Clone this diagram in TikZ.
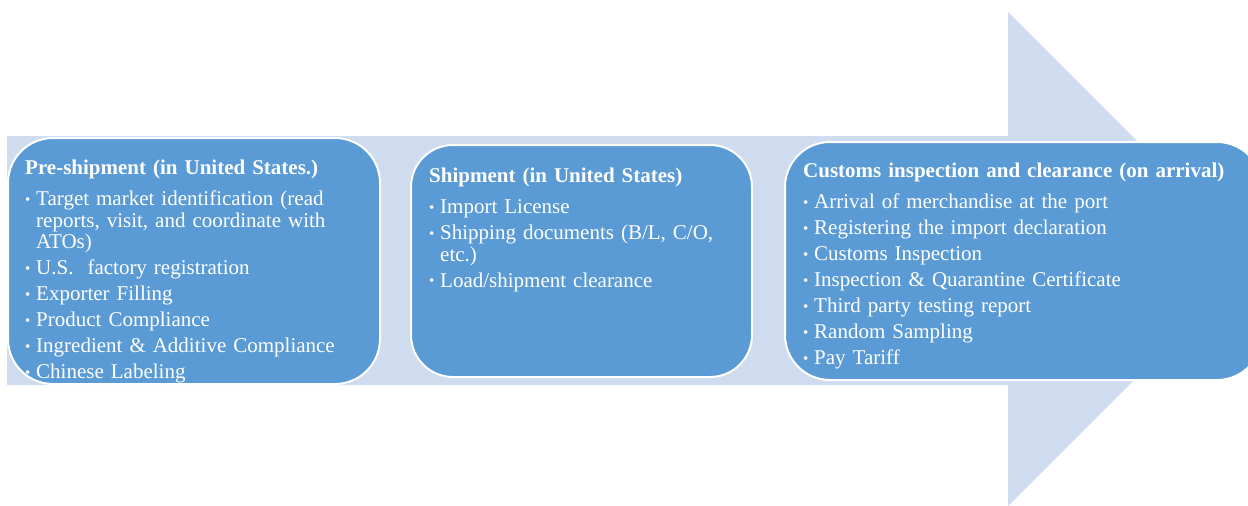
\documentclass[tikz,border=0pt]{standalone}
\usepackage{fontspec}
\setmainfont{Liberation Serif}
\definecolor{arrowfill}{HTML}{CFDBEE}
\definecolor{boxfill}{HTML}{5B9BD5}
\newcommand\bitem[1]{\par\hangindent=11pt\hangafter=1\noindent\makebox[11pt][l]{\raisebox{1.5pt}{\fontsize{15}{15}\selectfont\textbullet}}#1}
\newcommand\btitle[1]{\noindent\textbf{#1}\par\vspace{5pt}}
\tikzset{
  stage/.style={draw=white, line width=2pt, fill=boxfill},
  stagetext/.style={anchor=north west, inner sep=0pt, text=white, align=left, text width=#1,
    font=\fontsize{21}{21.5}\selectfont\setlength{\parskip}{4.5pt}},
}
\begin{document}
\begin{tikzpicture}[x=1pt,y=-1pt]
\useasboundingbox (0,0) rectangle (1248,506);
\clip (0,0) rectangle (1248,506);
% big arrow
\fill[arrowfill] (7,136) -- (1008,136) -- (1008,12) -- (1255,259) -- (1008,506) -- (1008,385) -- (7,385) -- cycle;
% boxes
\draw[stage, rounded corners=45pt] (8,138) rectangle (380,384);
\draw[stage, rounded corners=42pt] (411,145) rectangle (752,377);
\draw[stage, rounded corners=45pt] (785,142) rectangle (1262,380);
% texts
\node[stagetext=350pt] (t1) at (25,160) {%
\btitle{Pre-shipment (in United States.)}
\bitem{Target market identification (read\newline reports, visit, and coordinate with\newline ATOs)}
\bitem{U.S.\ \ factory registration}
\bitem{Exporter Filling}
\bitem{Product Compliance}
\bitem{Ingredient \& Additive Compliance}
\bitem{Chinese Labeling}};
\node[stagetext=320pt] (t2) at (429,168) {%
\btitle{Shipment (in United States)}
\bitem{Import License}
\bitem{Shipping documents (B/L, C/O,\newline etc.)}
\bitem{Load/shipment clearance}};
\node[stagetext=440pt] (t3) at (803,163) {%
\btitle{Customs inspection and clearance (on arrival)}
\bitem{Arrival of merchandise at the port}
\bitem{Registering the import declaration}
\bitem{Customs Inspection}
\bitem{Inspection \& Quarantine Certificate}
\bitem{Third party testing report}
\bitem{Random Sampling}
\bitem{Pay Tariff}};
\end{tikzpicture}
\end{document}
